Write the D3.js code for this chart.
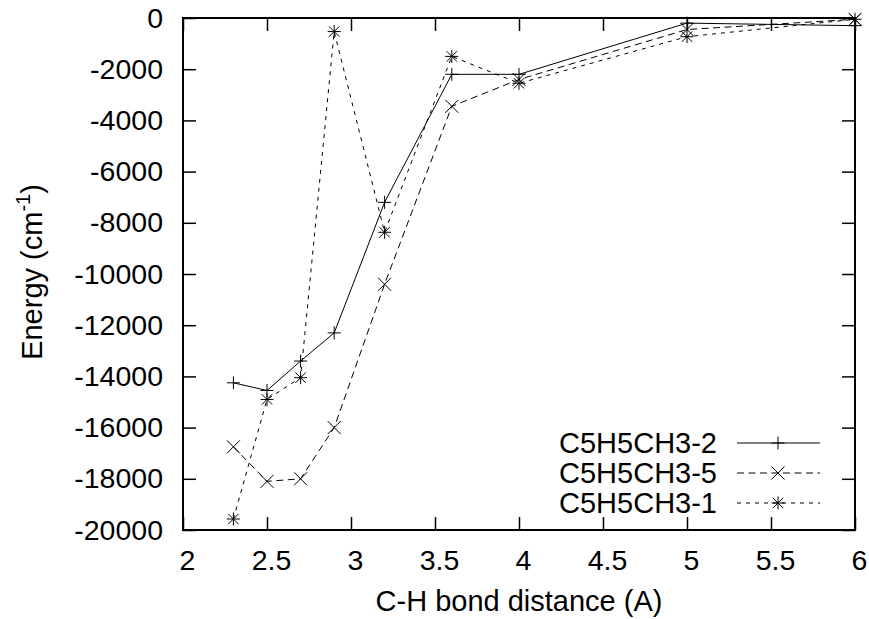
<!DOCTYPE html>
<html>
<head>
<meta charset="utf-8">
<script src="https://cdn.jsdelivr.net/npm/d3@7/dist/d3.min.js"></script>
<style>
  html, body { margin: 0; padding: 0; background: #fff; }
  svg { display: block; }
  text { font-family: "Liberation Sans", Arial, sans-serif; fill: #000; }
</style>
</head>
<body>
<svg id="chart" width="869" height="619"></svg>
<script>
// ---- data ----
const distances = [2.3, 2.5, 2.7, 2.9, 3.2, 3.6, 4.0, 5.0, 6.0];
const seriesNames = ["C5H5CH3-2", "C5H5CH3-5", "C5H5CH3-1"];
const energy2 = [-14250, -14550, -13400, -12300, -7200, -2200, -2200, -200, -300];
const energy5 = [-16750, -18100, -18000, -16000, -10400, -3450, -2400, -450, -50];
const energy1 = [-19570, -14900, -14050, -530, -8370, -1500, -2550, -730, -50];
const xTicks = [2, 2.5, 3, 3.5, 4, 4.5, 5, 5.5, 6];
const yTicks = [0, -2000, -4000, -6000, -8000, -10000, -12000, -14000, -16000, -18000, -20000];
const xLabel = "C-H bond distance (A)";

// ---- layout ----
const W = 869, H = 619;
const L = 183, R = 855, T = 18, B = 530;
const FS = 28.5;

const svg = d3.select("#chart");
svg.append("rect").attr("width", W).attr("height", H).attr("fill", "#fff");

const x = d3.scaleLinear().domain([2, 6]).range([L, R]);
const y = d3.scaleLinear().domain([-20000, 0]).range([B, T]);

// axes (inward ticks, mirrored)
const gB = svg.append("g").attr("transform", `translate(0,${B})`)
  .call(d3.axisBottom(x).tickValues(xTicks).tickSizeInner(-13).tickSizeOuter(0)
        .tickPadding(20).tickFormat(d => String(d)));
const gT = svg.append("g").attr("transform", `translate(0,${T})`)
  .call(d3.axisTop(x).tickValues(xTicks).tickSizeInner(-13).tickSizeOuter(0).tickFormat(""));
const gL = svg.append("g").attr("transform", `translate(${L},0)`)
  .call(d3.axisLeft(y).tickValues(yTicks).tickSizeInner(-13).tickSizeOuter(0)
        .tickPadding(20).tickFormat(d => String(d)));
const gR = svg.append("g").attr("transform", `translate(${R},0)`)
  .call(d3.axisRight(y).tickValues(yTicks).tickSizeInner(-13).tickSizeOuter(0).tickFormat(""));

[gB, gT, gL, gR].forEach(g => {
  g.select(".domain").remove();
  g.selectAll(".tick line").attr("stroke", "#000").attr("stroke-width", 1.5);
  g.selectAll("text").attr("font-size", FS).attr("font-family", '"Liberation Sans", Arial, sans-serif').attr("fill", "#000");
});
gB.selectAll(".tick text").attr("dx", 4);

// frame
svg.append("rect").attr("x", L).attr("y", T).attr("width", R - L).attr("height", B - T)
  .attr("fill", "none").attr("stroke", "#000").attr("stroke-width", 2);

// axis titles
svg.append("text").attr("x", (L + R) / 2).attr("y", 611).attr("text-anchor", "middle")
  .attr("font-size", 29).text(xLabel);

const yt = svg.append("text").attr("transform", `translate(42,${(T + B) / 2 - 2}) rotate(-90)`)
  .attr("text-anchor", "middle").attr("font-size", 29);
yt.append("tspan").text("Energy (cm");
yt.append("tspan").attr("font-size", 20).attr("dy", -12).text("-1");
yt.append("tspan").attr("dy", 12).text(")");

// markers
const S = 6.5;
const markerPaths = [
  `M${-S},0H${S}M0,${-S}V${S}`,
  `M${-S},${-S}L${S},${S}M${-S},${S}L${S},${-S}`,
  `M${-S},0H${S}M0,${-S}V${S}M${-S*0.8},${-S*0.8}L${S*0.8},${S*0.8}M${-S*0.8},${S*0.8}L${S*0.8},${-S*0.8}`
];
const dashes = [null, "7,4.5", "4,5"];
const allSeries = [energy2, energy5, energy1];

const line = d3.line().x(d => x(d[0])).y(d => y(d[1]));

allSeries.forEach((vals, i) => {
  const pts = distances.map((d, j) => [d, vals[j]]);
  svg.append("path").datum(pts).attr("d", line)
    .attr("fill", "none").attr("stroke", "#000").attr("stroke-width", 1)
    .attr("stroke-dasharray", dashes[i]);
  svg.append("g").selectAll("path").data(pts).join("path")
    .attr("transform", d => `translate(${x(d[0])},${y(d[1])})`)
    .attr("d", markerPaths[i]).attr("fill", "none").attr("stroke", "#000").attr("stroke-width", 1);
});

// legend
const legY = [443, 473, 503];
seriesNames.forEach((name, i) => {
  svg.append("text").attr("x", 717).attr("y", legY[i]).attr("dy", "0.36em")
    .attr("text-anchor", "end").attr("font-size", 29).text(name);
  svg.append("line").attr("x1", 737).attr("x2", 820).attr("y1", legY[i]).attr("y2", legY[i])
    .attr("stroke", "#000").attr("stroke-width", 1).attr("stroke-dasharray", dashes[i]);
  svg.append("path").attr("transform", `translate(778,${legY[i]})`)
    .attr("d", markerPaths[i]).attr("fill", "none").attr("stroke", "#000").attr("stroke-width", 1);
});
</script>
</body>
</html>
